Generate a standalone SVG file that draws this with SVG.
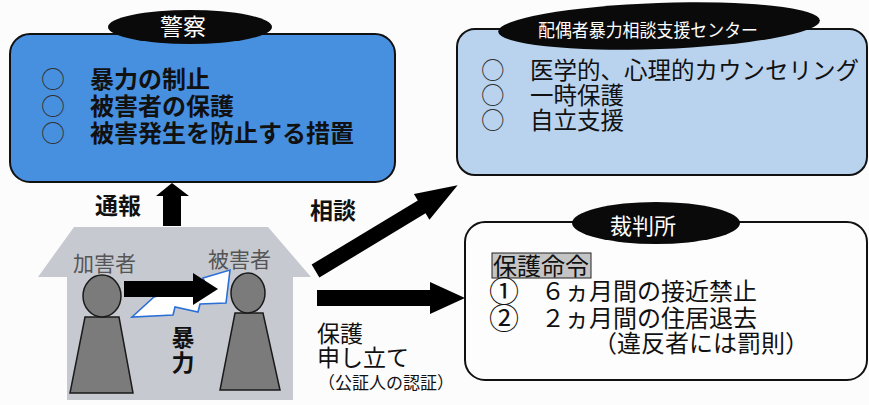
<svg xmlns="http://www.w3.org/2000/svg" width="869" height="405" viewBox="0 0 869 405">
  <style>
    text { font-family: "Noto Sans CJK JP", "Noto Sans", sans-serif; }
    .box { stroke: #111; stroke-width: 2; }
    .badge { fill: #0a0a0a; }
    .badge-text { fill: #fff; font-size: 23px; }
    .item { fill: #111; font-size: 24px; }
    .strong { font-weight: bold; }
    .mark { fill: #333; font-size: 24px; }
    .label { fill: #111; font-size: 23px; }
    .person { fill: #7b7b7b; stroke: #1a1a1a; stroke-width: 1.5; }
    .role { fill: #555; font-size: 21px; }
    .arrow { fill: #000; }
  </style>

  <rect width="869" height="405" fill="#fcfcfc"/>

  <!-- Police -->
  <g id="police">
    <rect class="box" x="10" y="34" width="385" height="148" rx="20" fill="#4790e0"/>
    <ellipse class="badge" cx="190" cy="27" rx="82" ry="17"/>
    <text class="badge-text" x="183" y="35" text-anchor="middle">警察</text>
    <text class="mark"><tspan x="41" y="88">○</tspan><tspan x="41" y="115">○</tspan><tspan x="41" y="142">○</tspan></text>
    <text class="item strong"><tspan x="90" y="88">暴力の制止</tspan><tspan x="90" y="115">被害者の保護</tspan><tspan x="90" y="142">被害発生を防止する措置</tspan></text>
  </g>

  <!-- Spousal violence counselling and support centre -->
  <g id="support-center">
    <rect class="box" x="457" y="29" width="410" height="146" rx="18" fill="#b9d3ef"/>
    <ellipse class="badge" cx="659" cy="26" rx="161" ry="23" transform="rotate(-2 659 26)"/>
    <text x="538" y="37" fill="#fff" style="font-size:18px" textLength="220" lengthAdjust="spacingAndGlyphs">配偶者暴力相談支援センター</text>
    <text class="mark" style="font-size:23.5px"><tspan x="481" y="79">○</tspan><tspan x="481" y="104">○</tspan><tspan x="481" y="129">○</tspan></text>
    <text class="item" style="font-size:23.5px"><tspan x="530" y="79">医学的、心理的カウンセリング</tspan><tspan x="530" y="104">一時保護</tspan><tspan x="530" y="129">自立支援</tspan></text>
  </g>

  <!-- Court -->
  <g id="court">
    <rect class="box" x="465" y="222" width="402" height="158" rx="20" fill="#fdfdfd"/>
    <ellipse class="badge" cx="656" cy="223" rx="84" ry="21"/>
    <text class="badge-text" x="643" y="234" text-anchor="middle" style="font-size:22px">裁判所</text>
    <rect x="492" y="253" width="99" height="25" fill="#c4c4c4" stroke="#222" stroke-width="1"/>
    <text class="item" x="493" y="275">保護命令</text>
    <text class="item" style="font-size:30px"><tspan x="489" y="302">①</tspan><tspan x="489" y="329">②</tspan></text>
    <text class="item"><tspan x="541" y="300">６ヵ月間の接近禁止</tspan><tspan x="541" y="327">２ヵ月間の住居退去</tspan><tspan x="593" y="352">（違反者には罰則）</tspan></text>
  </g>

  <!-- Household -->
  <g id="house">
    <polygon points="38,277 74,227 268,227 311,277 293,277 293,400 67,400 67,277" fill="#c6c9d0"/>
  </g>

  <g id="perpetrator">
    <text class="role" x="73" y="271">加害者</text>
    <polygon class="person" points="85,317 119,317 133,393 70,393"/>
    <ellipse class="person" cx="102" cy="296" rx="19" ry="21"/>
  </g>

  <g id="victim">
    <text class="role" x="208" y="267">被害者</text>
    <polygon class="person" points="235,313 263,313 280,390 220,390"/>
    <ellipse class="person" cx="248" cy="293" rx="17" ry="20"/>
  </g>

  <!-- Connectors -->
  <g id="connectors">
    <!-- lightning bolt of the violence -->
    <polygon points="132,317 154,297 170,293 205,283 203,278 230,270 226,303 200,304 198,312 175,307 173,315" fill="#fff" stroke="#2a6fd6" stroke-width="1.6" stroke-linejoin="miter"/>
    <!-- violence: perpetrator to victim -->
    <polygon class="arrow" points="124,281 193,281 193,273 218,289 193,305 193,297 124,297"/>
    <!-- report: house to police -->
    <polygon class="arrow" points="172,183 189,196 181,196 181,226 163,226 163,196 156,196"/>
    <!-- consultation: house to support centre -->
    <polygon class="arrow" points="0,-7.5 124,-7.5 124,-15 166,0 124,15 124,7.5 0,7.5" transform="translate(315.5 271) rotate(-31.1)"/>
    <!-- petition: house to court -->
    <polygon class="arrow" points="317,290 430,290 430,282 465,298 430,314 430,306 317,306"/>
  </g>

  <g id="labels">
    <text class="label strong" x="95" y="214">通報</text>
    <text class="label strong" x="310" y="219">相談</text>
    <text class="label strong" x="183" y="326" style="writing-mode: vertical-rl" letter-spacing="2">暴力</text>
    <text class="label"><tspan x="317" y="342">保護</tspan><tspan x="317" y="366">申し立て</tspan></text>
    <text x="318" y="389" fill="#111" style="font-size:17px">（公証人の認証）</text>
  </g>
</svg>
